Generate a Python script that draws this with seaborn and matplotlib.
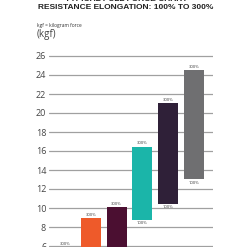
import numpy as np
import pandas as pd
import seaborn as sns
import matplotlib.pyplot as plt

# --- DATA ---
products = ["A", "B", "C", "D", "E", "F"]
force_300 = [5.85, 8.9, 10.1, 16.45, 21.0, 24.5]  # kgf at 300% elongation (top of bar)
force_100 = [3.5, 4.0, 4.5, 8.7, 10.4, 13.0]      # kgf at 100% elongation (bottom of bar)
bar_colors = ["#8DC63F", "#EE5A2A", "#4B0F31", "#1BB5A9", "#2F2038", "#6F6F71"]
top_labels = ["300%"] * 6
bottom_labels = ["100%"] * 6
y_ticks = [6, 8, 10, 12, 14, 16, 18, 20, 22, 24, 26]

df = pd.DataFrame({
    "product": products,
    "top": force_300,
    "bottom": force_100,
})
df["span"] = df["top"] - df["bottom"]

sns.set_style("white")
plt.rcParams["font.family"] = ["Open Sans", "DejaVu Sans"]

fig = plt.figure(figsize=(2.47, 2.47), dpi=100)
px_per_unit = 9.5
y_low = 6 - 1 / px_per_unit
y_high = 27
ax = fig.add_axes([49 / 247, 0, (213 - 49) / 247, (y_high - y_low) * px_per_unit / 247])

sns.barplot(data=df, x="product", y="span", bottom=df["bottom"].values,
            color="gray", width=0.78, ax=ax, zorder=3)
for patch, c in zip(ax.patches, bar_colors):
    patch.set_facecolor(c)
    patch.set_edgecolor("none")

for i, row in df.iterrows():
    ax.text(i, row["top"] + 0.14, top_labels[i], ha="center", va="bottom",
            fontsize=3, color="#333333", zorder=4)
    # only the bottoms that fall inside the visible range get a label
    if row["bottom"] > y_low + 0.5:
        ax.text(i, row["bottom"] - 0.12, bottom_labels[i], ha="center", va="top",
                fontsize=3, color="#333333", zorder=4)

ax.set_xlim(-0.62, 5.74)
ax.set_ylim(y_low, y_high)
ax.set_yticks(y_ticks)
ax.set_yticklabels([str(t) for t in y_ticks], fontsize=6.5, color="#444444")
ax.set_xticks([])
ax.grid(axis="y", color="#a0a0a0", linewidth=0.9, zorder=0)
ax.set_axisbelow(True)
ax.tick_params(axis="y", length=0, pad=2)
ax.set_xlabel("")
ax.set_ylabel("")
sns.despine(ax=ax, left=True, bottom=True)

# titles
fig.text(126 / 247, 1.002, "TYPICAL PULL FORCE CHART", ha="center", va="center",
         fontsize=6, fontweight="bold", family="Liberation Sans", color="#222222")
fig.text(126 / 247, 1 - 7.5 / 247, "RESISTANCE ELONGATION: 100% TO 300%",
         ha="center", va="center", fontsize=6, fontweight="bold",
         family="Liberation Sans", color="#222222")
fig.text(37 / 247, 1 - 26 / 247, "kgf = kilogram force", ha="left", va="center",
         fontsize=3.5, color="#333333")
fig.text(37 / 247, 1 - 35 / 247, "(kgf)", ha="left", va="center",
         fontsize=7, color="#444444")

fig.savefig("out.png", dpi=100)
